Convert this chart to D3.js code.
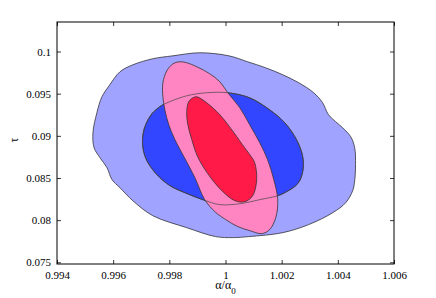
<!DOCTYPE html>
<html>
<head>
<meta charset="utf-8">
<script src="https://cdn.jsdelivr.net/npm/d3@7"></script>
<style>
  body { margin: 0; background: #fff; }
  svg text { font-family: "Liberation Serif", "Times New Roman", "DejaVu Serif", serif; }
</style>
</head>
<body>
<div id="chart"></div>
<script>
// contour levels, [alpha/alpha0, tau]
const blue95 = [
  [0.99909, 0.09985], [1.00012, 0.09949], [1.00079, 0.09878], [1.00143, 0.09807],
  [1.00204, 0.09724], [1.00261, 0.09629], [1.00314, 0.09511], [1.00346, 0.09392],
  [1.00367, 0.09250], [1.00417, 0.09096], [1.00446, 0.08989], [1.00460, 0.08859],
  [1.00463, 0.08658], [1.00460, 0.08468], [1.00453, 0.08350], [1.00428, 0.08207],
  [1.00382, 0.08089], [1.00296, 0.07947], [1.00204, 0.07852], [1.00083, 0.07805],
  [1.00026, 0.07793], [0.99965, 0.07805], [0.99862, 0.07911], [0.99741, 0.08053],
  [0.99670, 0.08231], [0.99624, 0.08385], [0.99596, 0.08480], [0.99578, 0.08622],
  [0.99553, 0.08741], [0.99532, 0.08859], [0.99528, 0.09037], [0.99542, 0.09274],
  [0.99560, 0.09463], [0.99588, 0.09605], [0.99624, 0.09759], [0.99670, 0.09842],
  [0.99741, 0.09914], [0.99813, 0.09949]
];
const blue68 = [
  [0.99784, 0.09380], [0.99862, 0.09475], [0.99933, 0.09511], [1.00008, 0.09511],
  [1.00086, 0.09451], [1.00157, 0.09309], [1.00211, 0.09155], [1.00253, 0.08954],
  [1.00275, 0.08752], [1.00275, 0.08575], [1.00257, 0.08432], [1.00211, 0.08326],
  [1.00186, 0.08290], [1.00122, 0.08243], [1.00051, 0.08195], [0.99980, 0.08184],
  [0.99919, 0.08243], [0.99855, 0.08326], [0.99802, 0.08409], [0.99756, 0.08539],
  [0.99720, 0.08705], [0.99706, 0.08859], [0.99706, 0.09013], [0.99717, 0.09143],
  [0.99738, 0.09262], [0.99766, 0.09345]
];
const red95 = [
  [0.99837, 0.09878], [0.99862, 0.09866], [0.99898, 0.09819], [0.99944, 0.09736],
  [0.99980, 0.09641], [1.00008, 0.09511], [1.00051, 0.09333], [1.00086, 0.09132],
  [1.00122, 0.08918], [1.00150, 0.08717], [1.00172, 0.08480], [1.00186, 0.08243],
  [1.00179, 0.08030], [1.00157, 0.07887], [1.00129, 0.07840], [1.00086, 0.07876],
  [1.00044, 0.07923], [1.00001, 0.08006], [0.99962, 0.08101], [0.99926, 0.08243],
  [0.99891, 0.08504], [0.99852, 0.08752], [0.99820, 0.08954], [0.99798, 0.09132],
  [0.99784, 0.09309], [0.99777, 0.09463], [0.99777, 0.09629], [0.99791, 0.09771],
  [0.99813, 0.09854]
];
const red68 = [
  [0.99898, 0.09463], [0.99933, 0.09392], [0.99980, 0.09250], [1.00030, 0.09037],
  [1.00068, 0.08859], [1.00090, 0.08760], [1.00104, 0.08681], [1.00111, 0.08480],
  [1.00097, 0.08290], [1.00069, 0.08219], [1.00033, 0.08231], [0.99987, 0.08350],
  [0.99937, 0.08551], [0.99901, 0.08752], [0.99880, 0.08954], [0.99866, 0.09132],
  [0.99862, 0.09286], [0.99869, 0.09404], [0.99884, 0.09451]
];

const xTicks = [0.994, 0.996, 0.998, 1, 1.002, 1.004, 1.006];
const yTicks = [0.075, 0.08, 0.085, 0.09, 0.095, 0.1];

const width = 436;
const height = 298;
const margin = { top: 22, right: 42, bottom: 34, left: 57 };
const innerWidth = width - margin.left - margin.right;
const innerHeight = height - margin.top - margin.bottom;
const serif = '"Liberation Serif", "Times New Roman", "DejaVu Serif", serif';

const svg = d3.select('#chart')
  .append('svg')
  .attr('width', width)
  .attr('height', height);

const g = svg.append('g')
  .attr('transform', `translate(${margin.left},${margin.top})`);

const x = d3.scaleLinear().domain([0.994, 1.006]).range([0, innerWidth]);
const y = d3.scaleLinear().domain([0.0748, 0.1035]).range([innerHeight, 0]);

const line = d3.line()
  .x(d => x(d[0]))
  .y(d => y(d[1]))
  .curve(d3.curveCatmullRomClosed.alpha(0.5));

// filled regions, back to front
const layers = [
  { pts: blue95, fill: '#a0a3ff' },
  { pts: blue68, fill: '#3346ff' },
  { pts: red95, fill: '#ff85c2' },
  { pts: red68, fill: '#ff1a48' }
];

g.selectAll('.region')
  .data(layers)
  .enter()
  .append('path')
  .attr('class', 'region')
  .attr('d', d => line(d.pts))
  .attr('fill', d => d.fill)
  .attr('stroke', '#333')
  .attr('stroke-width', 0.8);

// blue 68% contour shows through the red regions
g.append('path')
  .attr('d', line(blue68))
  .attr('fill', 'none')
  .attr('stroke', '#444')
  .attr('stroke-width', 0.7);

// axes, ticks pointing inwards on all four sides
const fmt = d => String(+d.toFixed(3));
const tickLen = 4;

const styleAxis = sel => {
  sel.attr('font-family', serif).attr('font-size', 11);
  sel.select('.domain').remove();
  sel.selectAll('line').attr('stroke', '#000').attr('stroke-width', 0.8);
  sel.selectAll('text').attr('fill', '#000');
};

g.append('g')
  .attr('transform', `translate(0,${innerHeight})`)
  .call(d3.axisBottom(x).tickValues(xTicks).tickFormat(fmt).tickSizeInner(-tickLen).tickSizeOuter(0).tickPadding(7))
  .call(styleAxis);

g.append('g')
  .call(d3.axisTop(x).tickValues(xTicks).tickSizeInner(-tickLen).tickSizeOuter(0))
  .call(styleAxis)
  .selectAll('text').remove();

g.append('g')
  .call(d3.axisLeft(y).tickValues(yTicks).tickFormat(fmt).tickSizeInner(-tickLen).tickSizeOuter(0).tickPadding(6))
  .call(styleAxis);

g.append('g')
  .attr('transform', `translate(${innerWidth},0)`)
  .call(d3.axisRight(y).tickValues(yTicks).tickSizeInner(-tickLen).tickSizeOuter(0))
  .call(styleAxis)
  .selectAll('text').remove();

// frame
g.append('rect')
  .attr('width', innerWidth)
  .attr('height', innerHeight)
  .attr('fill', 'none')
  .attr('stroke', '#000')
  .attr('stroke-width', 1);

// axis titles
const xt = svg.append('text')
  .attr('x', margin.left + x(1))
  .attr('y', 289)
  .attr('text-anchor', 'middle')
  .attr('font-family', serif)
  .attr('font-size', 12);
xt.append('tspan').text('α/α');
xt.append('tspan').attr('dy', 5).attr('font-size', 9).text('0');

svg.append('text')
  .attr('transform', `translate(18,${margin.top + y(0.0895)}) rotate(-90)`)
  .attr('text-anchor', 'middle')
  .attr('font-family', serif)
  .attr('font-size', 12)
  .text('τ');
</script>
</body>
</html>
